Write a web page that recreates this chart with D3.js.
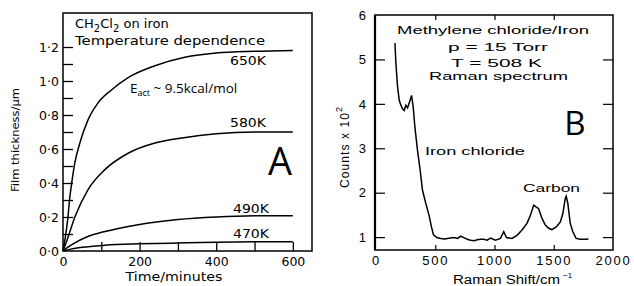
<!DOCTYPE html>
<html><head><meta charset="utf-8">
<script src="https://cdn.jsdelivr.net/npm/d3@7"></script>
<style>
body{margin:0;background:#fff;}
svg{display:block;}
text{fill:#000;}
</style></head>
<body>
<svg id="c" width="634" height="286"></svg>
<script>
// ---------- Panel A data ----------
const time650 = [0,6,12,18,24,31,44,65,91,128,170,240,318,400,500,600];
const thick650 = [0,0.08,0.18,0.32,0.42,0.52,0.635,0.77,0.87,0.95,1.02,1.09,1.14,1.165,1.175,1.18];
const time580 = [0,10,31,65,110,170,240,311,400,500,600];
const thick580 = [0,0.06,0.20,0.36,0.48,0.575,0.635,0.665,0.69,0.70,0.70];
const time490 = [0,10,31,65,110,196,300,400,500,600];
const thick490 = [0,0.018,0.048,0.085,0.115,0.155,0.185,0.20,0.207,0.208];
const time470 = [0,20,50,110,200,300,400,500,600];
const thick470 = [0,0.011,0.022,0.034,0.042,0.047,0.051,0.054,0.055];
const seriesLabelsA = ["650K","580K","490K","470K"];
const yTickLabelsA = [0,0.2,0.4,0.6,0.8,1.0,1.2];
const yMinorTicksA = [0.1,0.2,0.3,0.4,0.5,0.6,0.7,0.8,0.9,1.0,1.1,1.2];
const xTickLabelsA = [0,200,400,600];
const xMinorTicksA = [100,200,300,400,500,600];

// ---------- Panel B data ----------
const shiftB = [160,168,182,196,210,224,238,252,266,288,300,314,328,350,373,392,420,448,468,485,513,546,580,602,630,658,690,714,742,770,798,830,854,882,910,938,966,1008,1050,1078,1101,1148,1190,1232,1274,1303,1331,1350,1372,1401,1429,1457,1485,1521,1555,1577,1597,1605,1619,1639,1661,1689,1723,1765,1793];
const countsB = [5.37,4.91,4.38,4.08,3.97,3.89,3.85,3.97,3.91,4.08,4.19,3.93,3.48,2.96,2.5,2.06,1.76,1.49,1.23,1.05,0.99,0.97,0.96,0.97,0.98,0.99,0.97,1.02,0.99,0.95,0.93,0.92,0.94,0.95,0.95,0.93,0.98,0.93,0.97,1.12,0.99,0.97,1.04,1.16,1.31,1.49,1.72,1.68,1.64,1.42,1.27,1.20,1.17,1.23,1.34,1.53,1.87,1.92,1.76,1.31,1.12,0.97,0.95,0.95,0.96];
const yTicksB = [1,2,3,4,5,6];
const xTicksB = [0,500,1000,1500,2000];

const svg = d3.select("#c");
const fA = "DejaVu Sans";
const fB = "Liberation Sans";

// ===== Panel A =====
const xA = d3.scaleLinear().domain([0,650]).range([63,312]);
const yA = d3.scaleLinear().domain([0,1.4]).range([251,13]);
const gA = svg.append("g");

gA.append("rect").attr("x",xA(0)).attr("y",yA(1.4)).attr("width",xA(650)-xA(0)).attr("height",yA(0)-yA(1.4))
  .attr("fill","none").attr("stroke","#000").attr("stroke-width",1.5);

const fmtA = d => d3.format(".1f")(d).replace(".","·");
gA.append("g").attr("transform",`translate(${xA(0)},0)`)
  .call(d3.axisLeft(yA).tickValues(yMinorTicksA).tickSize(-10).tickFormat(""))
  .call(g=>{g.select(".domain").remove(); g.selectAll("line").attr("stroke-width",1.3);});
gA.append("g").attr("transform",`translate(${xA(0)},0)`)
  .call(d3.axisLeft(yA).tickValues(yTickLabelsA).tickSize(0).tickPadding(4).tickFormat(fmtA))
  .call(g=>{g.select(".domain").remove(); g.selectAll("text").attr("font-family",fA).attr("font-size",12.5);});
gA.append("g").attr("transform",`translate(0,${yA(0)})`)
  .call(d3.axisBottom(xA).tickValues(xMinorTicksA).tickSize(-9).tickFormat(""))
  .call(g=>{g.select(".domain").remove(); g.selectAll("line").attr("stroke-width",1.3);});
gA.append("g").attr("transform",`translate(0,${yA(0)})`)
  .call(d3.axisBottom(xA).tickValues(xTickLabelsA).tickSize(0).tickPadding(6).tickFormat(d3.format("d")))
  .call(g=>{g.select(".domain").remove(); g.selectAll("text").attr("font-family",fA).attr("font-size",12.5);});

const lineA = d3.line().x(d=>xA(d[0])).y(d=>yA(d[1])).curve(d3.curveMonotoneX);
const seriesA = [
  d3.zip(time650,thick650), d3.zip(time580,thick580), d3.zip(time490,thick490), d3.zip(time470,thick470)
];
gA.selectAll("path.curve").data(seriesA).join("path").attr("class","curve")
  .attr("d",lineA).attr("fill","none").attr("stroke","#000").attr("stroke-width",1.5);

const labX = [230,230,233,233];
const labY = [65,127,213,238];
gA.selectAll("text.sl").data(seriesLabelsA).join("text").attr("class","sl")
  .attr("x",(d,i)=>labX[i]).attr("y",(d,i)=>labY[i])
  .attr("font-family",fA).attr("font-size",12.5).attr("textLength",36).attr("lengthAdjust","spacingAndGlyphs").text(d=>d);

const t1 = gA.append("text").attr("x",75).attr("y",28).attr("font-family",fA).attr("font-size",13);
t1.append("tspan").text("CH");
t1.append("tspan").attr("font-size",10).attr("dy",4).text("2");
t1.append("tspan").attr("dy",-4).text("Cl");
t1.append("tspan").attr("font-size",10).attr("dy",4).text("2");
t1.append("tspan").attr("dy",-4).text("  on iron");
gA.append("text").attr("x",75).attr("y",45).attr("font-family",fA).attr("font-size",13)
  .attr("textLength",190).attr("lengthAdjust","spacingAndGlyphs").text("Temperature dependence");

const ea = gA.append("text").attr("x",130).attr("y",93).attr("font-family","Open Sans").attr("font-size",13.5);
ea.append("tspan").text("E");
ea.append("tspan").attr("font-size",9).attr("dy",3).text("act");
ea.append("tspan").attr("dy",-3).text(" ~ 9.5kcal/mol");

gA.append("text").attr("x",280).attr("y",175).attr("text-anchor","middle").attr("font-family","Open Sans").attr("font-size",38).text("A");

gA.append("text").attr("transform","translate(19,140) rotate(-90)").attr("text-anchor","middle")
  .attr("font-family",fA).attr("font-size",11).attr("textLength",104).attr("lengthAdjust","spacingAndGlyphs").text("Film thickness/µm");
gA.append("text").attr("x",174).attr("y",281).attr("text-anchor","middle")
  .attr("font-family",fA).attr("font-size",13).attr("textLength",97).attr("lengthAdjust","spacingAndGlyphs").text("Time/minutes");

// ===== Panel B =====
const xB = d3.scaleLinear().domain([0,2000]).range([376,613]);
const yB = d3.scaleLinear().domain([0.71,6]).range([250,15]);
const gB = svg.append("g");

gB.append("rect").attr("x",375).attr("y",yB(6)).attr("width",xB(2000)-375).attr("height",yB(0.71)-yB(6))
  .attr("fill","none").attr("stroke","#000").attr("stroke-width",1.5);
gB.append("line").attr("x1",375).attr("x2",375).attr("y1",yB(6)).attr("y2",yB(0.71)).attr("stroke","#000").attr("stroke-width",2.2);

gB.append("g").attr("transform",`translate(375,0)`)
  .call(d3.axisLeft(yB).tickValues(yTicksB.slice(0,5)).tickSize(-10).tickFormat(""))
  .call(g=>{g.select(".domain").remove(); g.selectAll("line").attr("stroke-width",1.2);});
gB.append("g").attr("transform",`translate(${xB(2000)},0)`)
  .call(d3.axisRight(yB).tickValues(yTicksB.slice(0,5)).tickSize(-10).tickFormat(""))
  .call(g=>{g.select(".domain").remove(); g.selectAll("line").attr("stroke-width",1.2);});
gB.append("g").attr("transform",`translate(375,0)`)
  .call(d3.axisLeft(yB).tickValues(yTicksB).tickSize(0).tickPadding(9).tickFormat(d3.format("d")))
  .call(g=>{g.select(".domain").remove(); g.selectAll("text").attr("font-family",fB).attr("font-size",13);});
gB.append("g").attr("transform",`translate(0,${yB(0.71)})`)
  .call(d3.axisBottom(xB).tickValues(xTicksB.slice(1,4)).tickSize(-5).tickFormat(""))
  .call(g=>{g.select(".domain").remove(); g.selectAll("line").attr("stroke-width",1.2);});
gB.append("g").attr("transform",`translate(0,${yB(6)})`)
  .call(d3.axisTop(xB).tickValues(xTicksB.slice(1,4)).tickSize(-5).tickFormat(""))
  .call(g=>{g.select(".domain").remove(); g.selectAll("line").attr("stroke-width",1.2);});
gB.append("g").attr("transform",`translate(0,${yB(0.71)})`)
  .call(d3.axisBottom(xB).tickValues(xTicksB).tickSize(0).tickPadding(6).tickFormat(d3.format("d")))
  .call(g=>{g.select(".domain").remove(); g.selectAll("text").attr("font-family",fB).attr("font-size",13).attr("letter-spacing",1.8);});

const lineB = d3.line().x(d=>xB(d[0])).y(d=>yB(d[1]));
gB.append("path").datum(d3.zip(shiftB,countsB)).attr("d",lineB).attr("fill","none").attr("stroke","#000").attr("stroke-width",1.5);

const txtB = (s,x,y,len) => gB.append("text").attr("x",x).attr("y",y)
  .attr("font-family",fB).attr("font-size",11).attr("textLength",len).attr("lengthAdjust","spacingAndGlyphs").text(s);
txtB("Methylene chloride/Iron",397,34,192);
txtB("p = 15 Torr",448,50.5,100);
txtB("T = 508 K",451,66.5,91);
txtB("Raman spectrum",429,80,139);
txtB("Iron chloride",425,155,100);
txtB("Carbon",523,192,57);

gB.append("text").attr("x",575).attr("y",135).attr("text-anchor","middle").attr("font-family","Open Sans").attr("font-size",33).text("B");

const cl = gB.append("text").attr("transform","translate(349,188) rotate(-90)").attr("font-family",fB).attr("font-size",12);
cl.append("tspan").attr("textLength",75).text("Counts x 10");
cl.append("tspan").attr("font-size",9).attr("dy",-7).text("2");

const xl = gB.append("text").attr("x",453).attr("y",284).attr("font-family",fB).attr("font-size",12);
xl.append("tspan").attr("textLength",107).attr("lengthAdjust","spacingAndGlyphs").text("Raman Shift/cm");
xl.append("tspan").attr("font-size",8).attr("dy",-6).attr("dx",3).text("−1");
</script>
</body></html>
